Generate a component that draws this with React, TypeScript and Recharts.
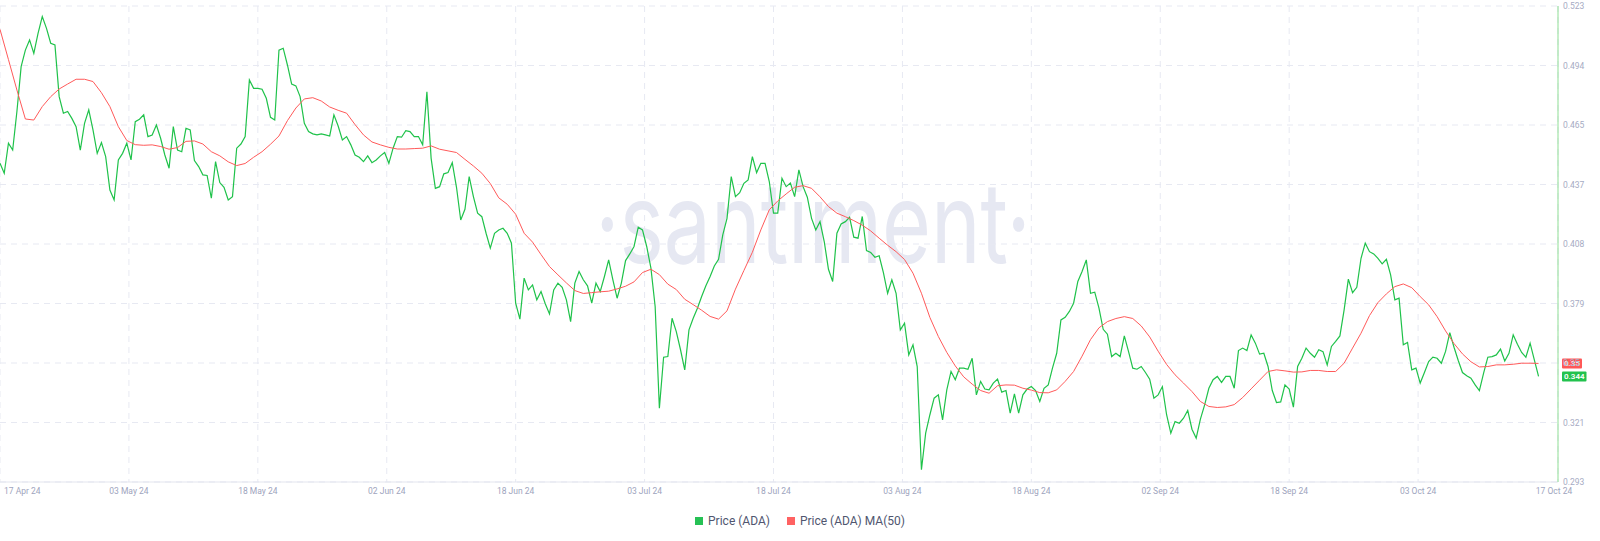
import { CartesianGrid, Line, LineChart, ReferenceLine, XAxis, YAxis } from "recharts"

// ADA price, one reading every half day from 17 Apr 24
const PRICE = [
    0.4470, 0.4422, 0.4567, 0.4534, 0.4720, 0.4937, 0.5017, 0.5066, 0.5001, 0.5098,
    0.5179, 0.5122, 0.5050, 0.5042, 0.4792, 0.4712, 0.4720, 0.4687, 0.4647, 0.4534,
    0.4663, 0.4728, 0.4631, 0.4518, 0.4570, 0.4502, 0.4341, 0.4293, 0.4486, 0.4518,
    0.4567, 0.4486, 0.4671, 0.4683, 0.4704, 0.4599, 0.4607, 0.4655, 0.4591, 0.4510,
    0.4446, 0.4647, 0.4534, 0.4526, 0.4639, 0.4631, 0.4483, 0.4454, 0.4414, 0.4411,
    0.4301, 0.4478, 0.4377, 0.4354, 0.4293, 0.4309, 0.4543, 0.4563, 0.4599, 0.4873,
    0.4832, 0.4832, 0.4828,
    0.4784, 0.4692, 0.4679, 0.5017, 0.5026, 0.4945, 0.4853, 0.4844, 0.4792, 0.4663,
    0.4623, 0.4612, 0.4607, 0.4612, 0.4607, 0.4602, 0.4704, 0.4650, 0.4583, 0.4599,
    0.4559, 0.4510, 0.4499, 0.4478, 0.4506, 0.4473, 0.4486, 0.4506, 0.4522, 0.4470,
    0.4543, 0.4599, 0.4596, 0.4628, 0.4623, 0.4599, 0.4599, 0.4559, 0.4816, 0.4494,
    0.4349, 0.4357, 0.4419, 0.4425, 0.4473, 0.4354, 0.4196, 0.4248, 0.4406, 0.4309,
    0.4229, 0.4212, 0.4132, 0.4060, 0.4132, 0.4148, 0.4156, 0.4132, 0.4084, 0.3794,
    0.3717, 0.3915,
    0.3858, 0.3882, 0.3810, 0.3850, 0.3791, 0.3742, 0.3858, 0.3891, 0.3871, 0.3810,
    0.3705, 0.3891, 0.3947, 0.3907, 0.3878, 0.3794, 0.3891, 0.3850, 0.3923, 0.4003,
    0.3907, 0.3818, 0.3891, 0.4000, 0.4032, 0.4068, 0.4161, 0.4148, 0.4068, 0.3963,
    0.3778, 0.3287, 0.3533, 0.3536, 0.3721, 0.3657, 0.3569, 0.3472, 0.3665, 0.3721,
    0.3770, 0.3826, 0.3878, 0.3923, 0.3974, 0.4006, 0.4124, 0.4204, 0.4406, 0.4309,
    0.4328, 0.4373, 0.4390, 0.4502, 0.4425, 0.4470, 0.4470, 0.4382, 0.4229, 0.4229,
    0.4398,
    0.4357, 0.4374, 0.4309, 0.4438, 0.4357, 0.4306, 0.4204, 0.4148, 0.4188, 0.4092,
    0.3958, 0.3899, 0.4132, 0.4177, 0.4188, 0.4209, 0.4113, 0.4108, 0.4213, 0.4048,
    0.4039, 0.4016, 0.4023, 0.3942, 0.3842, 0.3907, 0.3842, 0.3665, 0.3697, 0.3544,
    0.3593, 0.3488, 0.2989, 0.3166, 0.3255, 0.3335, 0.3351, 0.3230, 0.3375, 0.3464,
    0.3424, 0.3480, 0.3480, 0.3475, 0.3528, 0.3351, 0.3416, 0.3379, 0.3375, 0.3408,
    0.3427, 0.3364, 0.3372, 0.3263, 0.3356, 0.3263, 0.3351, 0.3379, 0.3391, 0.3372,
    0.3319, 0.3383,
    0.3399, 0.3480, 0.3552, 0.3713, 0.3726, 0.3754, 0.3794, 0.3899, 0.3947, 0.4003,
    0.3842, 0.3847, 0.3770, 0.3668, 0.3644, 0.3536, 0.3552, 0.3536, 0.3636, 0.3560,
    0.3480, 0.3475, 0.3488, 0.3459, 0.3427, 0.3335, 0.3351, 0.3391, 0.3255, 0.3166,
    0.3222, 0.3214, 0.3238, 0.3276, 0.3185, 0.3142, 0.3234, 0.3303, 0.3383, 0.3424,
    0.3440, 0.3411, 0.3440, 0.3440, 0.3383, 0.3565, 0.3577, 0.3565, 0.3641, 0.3601,
    0.3548, 0.3552, 0.3488, 0.3372, 0.3314, 0.3317, 0.3399, 0.3379, 0.3292, 0.3488,
    0.3528,
    0.3577, 0.3552, 0.3533, 0.3569, 0.3560, 0.3496, 0.3585, 0.3609, 0.3636, 0.3762,
    0.3910, 0.3845, 0.3871, 0.4011, 0.4084, 0.4043, 0.4032, 0.4011, 0.3984, 0.4006,
    0.3931, 0.3810, 0.3818, 0.3593, 0.3604, 0.3472, 0.3480, 0.3408, 0.3459, 0.3512,
    0.3533, 0.3528, 0.3504, 0.3561, 0.3652, 0.3581, 0.3517, 0.3459, 0.3443, 0.3432,
    0.3399, 0.3372, 0.3456, 0.3533, 0.3536, 0.3544, 0.3572, 0.3515, 0.3552, 0.3641,
    0.3596, 0.3556, 0.3533, 0.3601, 0.3520, 0.3440,
]

// MA(50), one reading per day
const MA50 = [
    0.5117, 0.4971, 0.4824, 0.4684, 0.4679, 0.4744, 0.4792, 0.4829, 0.4853, 0.4876,
    0.4876, 0.4865, 0.4811, 0.4744, 0.4647, 0.4580, 0.4560, 0.4557, 0.4559, 0.4551,
    0.4538, 0.4546, 0.4576, 0.4578, 0.4563, 0.4526, 0.4506, 0.4477, 0.4459, 0.4469,
    0.4499, 0.4526,
    0.4562, 0.4602, 0.4676, 0.4737, 0.4781, 0.4787, 0.4771, 0.4742, 0.4726, 0.4712,
    0.4657, 0.4607, 0.4573, 0.4559, 0.4547, 0.4539, 0.4539, 0.4541, 0.4543, 0.4554,
    0.4538, 0.4530, 0.4522, 0.4489, 0.4457, 0.4422, 0.4372, 0.4303, 0.4272, 0.4224,
    0.4132,
    0.4089, 0.4029, 0.3971, 0.3931, 0.3892, 0.3855, 0.3841, 0.3845, 0.3849, 0.3852,
    0.3863, 0.3876, 0.3897, 0.3942, 0.3958, 0.3932, 0.3886, 0.3860, 0.3813, 0.3787,
    0.3760, 0.3730, 0.3717, 0.3757, 0.3862, 0.3952, 0.4040, 0.4148, 0.4245, 0.4288,
    0.4322, 0.4354, 0.4362, 0.4349, 0.4308, 0.4261, 0.4229, 0.4212, 0.4193, 0.4171,
    0.4143, 0.4108, 0.4074, 0.4043, 0.4005, 0.3939, 0.3842, 0.3725, 0.3633, 0.3556,
    0.3491, 0.3438, 0.3403, 0.3372, 0.3359, 0.3395, 0.3399, 0.3398, 0.3383, 0.3374,
    0.3362,
    0.3361, 0.3375, 0.3416, 0.3464, 0.3538, 0.3618, 0.3675, 0.3705, 0.3720, 0.3729,
    0.3720, 0.3684, 0.3631, 0.3562, 0.3498, 0.3448, 0.3408, 0.3367, 0.3319, 0.3295,
    0.3290, 0.3293, 0.3304, 0.3338, 0.3380, 0.3422, 0.3464, 0.3472, 0.3467, 0.3461,
    0.3462,
    0.3469, 0.3469, 0.3464, 0.3464, 0.3504, 0.3577, 0.3649, 0.3734, 0.3797, 0.3839,
    0.3874, 0.3887, 0.3869, 0.3826, 0.3786, 0.3729, 0.3660, 0.3599, 0.3549, 0.3511,
    0.3486, 0.3488, 0.3496, 0.3496, 0.3499, 0.3504, 0.3504, 0.3503,
]

const X_LABELS = [
    "17 Apr 24", "03 May 24", "18 May 24", "02 Jun 24", "18 Jun 24", "03 Jul 24", "18 Jul 24",
    "03 Aug 24", "18 Aug 24", "02 Sep 24", "18 Sep 24", "03 Oct 24", "17 Oct 24",
]
const Y_LABELS = ["0.293", "0.321", "0.35", "0.379", "0.408", "0.437", "0.465", "0.494", "0.523"]

const PRICE_STEP = 0.5 // days
const MA_STEP = 1
const TICK_STEP = 15.25
const X_MAX = 184.3
const Y_MIN = 0.293
const Y_MAX = 0.523

const GREEN = "#1fc24a"
const RED = "#ff5a5a"
const FONT = "Roboto, sans-serif"

const priceData = PRICE.map((v, i) => ({ t: i * PRICE_STEP, v }))
const maData = MA50.map((v, i) => ({ t: i * MA_STEP, v }))
const xTicks = X_LABELS.map((_, i) => (i < X_LABELS.length - 1 ? i * TICK_STEP : X_MAX))
const yTicks = Y_LABELS.map((_, i) => Y_MIN + (i * (Y_MAX - Y_MIN)) / (Y_LABELS.length - 1))

function XTick({ x, y, payload }: any) {
    const i = xTicks.indexOf(payload.value)
    const first = i === 0
    const last = i === X_LABELS.length - 1
    return (
        <text
            x={first ? x + 4 : last ? x - 4 : x}
            y={y + 12}
            textAnchor={first ? "start" : "middle"}
            fontSize={8.5}
            fontFamily={FONT}
            fill="#9ea4bd"
        >
            {X_LABELS[i]}
        </text>
    )
}

function YTick({ x, y, payload }: any) {
    const i = yTicks.indexOf(payload.value)
    return (
        <text x={x + 5} y={y} dominantBaseline="central" fontSize={8.5} fontFamily={FONT} fill="#a6abc3">
            {Y_LABELS[i]}
        </text>
    )
}

// small coloured value tag to the right of the y axis
function Badge({ viewBox, text, color }: any) {
    const w = text.length * 4.5 + 2
    const left = viewBox.x + viewBox.width + 4
    return (
        <g>
            <rect x={left} y={viewBox.y - 5} width={w} height={10} fill={color} rx={1} />
            <text
                x={left + 2}
                y={viewBox.y}
                dominantBaseline="central"
                fontSize={8}
                fontWeight={600}
                fontFamily={FONT}
                fill="#ffffff"
            >
                {text}
            </text>
        </g>
    )
}

const lastPrice = PRICE[PRICE.length - 1]
const lastMa = MA50[MA50.length - 1]

export default function App() {
    return (
        <div style={{ position: "absolute", left: 0, top: 0, width: 1600, height: 541, background: "#fff" }}>
            <svg width={1600} height={541} style={{ position: "absolute", left: 0, top: 0 }}>
                <text
                    x={813}
                    y={263}
                    textAnchor="middle"
                    fontSize={112}
                    fontFamily="Inter, sans-serif"
                    fill="#e6e8f2"
                    transform="translate(813 0) scale(0.75 1) translate(-813 0)"
                >
                    ·santiment·
                </text>
            </svg>

            <LineChart width={1600} height={541} margin={{ top: 6, right: 0, bottom: 0, left: 0 }}>
                <CartesianGrid strokeDasharray="6 5" stroke="#e7e9f2" />
                <XAxis
                    dataKey="t"
                    type="number"
                    domain={[0, X_MAX]}
                    ticks={xTicks}
                    interval={0}
                    height={59}
                    tickSize={0}
                    tickMargin={0}
                    tickLine={false}
                    axisLine={{ stroke: "#e3e5ee" }}
                    tick={<XTick />}
                    allowDataOverflow
                />
                <YAxis
                    orientation="right"
                    type="number"
                    domain={[Y_MIN, Y_MAX]}
                    ticks={yTicks}
                    interval={0}
                    width={42}
                    tickSize={0}
                    tickMargin={0}
                    tickLine={false}
                    axisLine={{ stroke: "#8fdf95" }}
                    tick={<YTick />}
                    allowDataOverflow
                />
                <Line
                    data={priceData}
                    dataKey="v"
                    type="linear"
                    stroke={GREEN}
                    strokeWidth={1.2}
                    dot={false}
                    activeDot={false}
                    isAnimationActive={false}
                    name="Price (ADA)"
                />
                <Line
                    data={maData}
                    dataKey="v"
                    type="linear"
                    stroke={RED}
                    strokeWidth={1}
                    dot={false}
                    activeDot={false}
                    isAnimationActive={false}
                    name="Price (ADA) MA(50)"
                />
                <ReferenceLine
                    y={lastMa}
                    stroke="none"
                    label={<Badge text={String(parseFloat(lastMa.toFixed(3)))} color="#ff5757" />}
                />
                <ReferenceLine
                    y={lastPrice}
                    stroke="none"
                    label={<Badge text={String(parseFloat(lastPrice.toFixed(3)))} color="#22c24e" />}
                />
            </LineChart>

            <div
                style={{
                    position: "absolute",
                    left: 0,
                    top: 514,
                    width: 1600,
                    display: "flex",
                    justifyContent: "center",
                    gap: 17,
                    fontFamily: FONT,
                    fontSize: 12,
                    lineHeight: "14px",
                    color: "#50566f",
                }}
            >
                {[
                    { name: "Price (ADA)", color: "#26c155" },
                    { name: "Price (ADA) MA(50)", color: "#ff6262" },
                ].map(item => (
                    <div key={item.name} style={{ display: "flex", alignItems: "center", gap: 5 }}>
                        <span style={{ width: 8, height: 8, background: item.color, display: "inline-block" }} />
                        <span>{item.name}</span>
                    </div>
                ))}
            </div>
        </div>
    )
}
